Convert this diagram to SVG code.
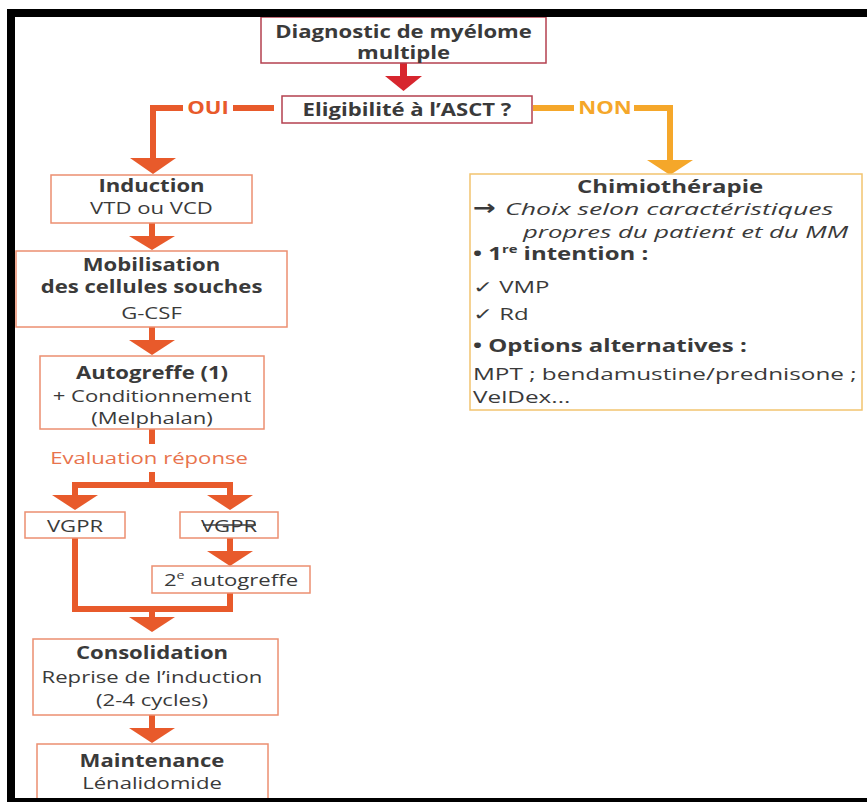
<svg xmlns="http://www.w3.org/2000/svg" width="867" height="802" viewBox="0 0 867 802">
<defs>
<style>
text { font-family: "Open Sans", "Liberation Sans", "DejaVu Sans", sans-serif; font-size: 17px; fill: #3a3a3a; }
.b { font-weight: 700; }
.m { text-anchor: middle; }
.r { font-size: 17px; }
.i { font-style: italic; }
.box1 { fill: #fff; stroke: #b4404f; stroke-width: 1.5; }
.box2 { fill: #fff; stroke: #ec8f70; stroke-width: 1.5; }
.box3 { fill: #fff; stroke: #f2c46f; stroke-width: 1.5; }
.cr { fill: none; stroke: #d7262e; stroke-width: 7; }
.co { fill: none; stroke: #e85a2b; stroke-width: 6; stroke-linejoin: miter; }
.cy { fill: none; stroke: #f5a72a; stroke-width: 6; stroke-linejoin: miter; }
.hr { fill: #d7262e; }
.ho { fill: #e85a2b; }
.hy { fill: #f5a72a; }
.lo { fill: #e85a2b; }
.ly { fill: #f5a72a; }
.ev { fill: #e8734d; }
.arr { font-family: "DejaVu Sans", sans-serif; font-weight: 700; font-size: 21px; }
</style>
</defs>
<rect width="867" height="802" fill="#fff"/>

<g id="connectors">
  <path class="cr" d="M403.5,63 V77"/>
  <polygon class="hr" points="385,76 422,76 403.5,91"/>
  <path class="co" d="M274,108 H233 M183,108 H153 V159"/>
  <polygon class="ho" points="130,158 176,158 153,174"/>
  <path class="cy" d="M533,108 H574 M634,108 H670 V161"/>
  <polygon class="hy" points="647,160 693,160 670,175"/>
  <path class="co" d="M152,223 V237"/>
  <polygon class="ho" points="129,236 175,236 152,250"/>
  <path class="co" d="M152,327 V341"/>
  <polygon class="ho" points="129,340 175,340 152,355"/>
  <path class="co" d="M152,429 V444 M152,472 V485"/>
  <path class="co" d="M75,497 V485 H230 V497"/>
  <polygon class="ho" points="52,495 98,495 75,510"/>
  <polygon class="ho" points="207,495 253,495 230,510"/>
  <path class="co" d="M230,538 V552"/>
  <polygon class="ho" points="207,551 253,551 230,566"/>
  <path class="co" d="M75,538 V609 H230 V593 M152,609 V618"/>
  <polygon class="ho" points="129,617 175,617 152,632"/>
  <path class="co" d="M152,715 V729"/>
  <polygon class="ho" points="129,728 175,728 152,743"/>
  <text class="b lo m" transform="translate(208,114) scale(1.3,1)">OUI</text>
  <text class="b ly m" transform="translate(605,114) scale(1.3,1)">NON</text>
  <text class="ev m" transform="translate(149,464) scale(1.3,1)">Evaluation réponse</text>
</g>

<g id="diagnostic">
  <rect class="box1" x="261" y="17" width="285" height="46"/>
  <text class="b m" transform="translate(403.5,38) scale(1.3,1)">Diagnostic de myélome</text>
  <text class="b m" transform="translate(403.5,59) scale(1.3,1)">multiple</text>
</g>

<g id="eligibilite">
  <rect class="box1" x="282" y="96" width="250" height="27"/>
  <text class="b m" transform="translate(407,116) scale(1.3,1)">Eligibilité à l’ASCT ?</text>
</g>

<g id="induction">
  <rect class="box2" x="51" y="175" width="201" height="48"/>
  <text class="b m" transform="translate(151.5,192) scale(1.3,1)">Induction</text>
  <text class="m" transform="translate(151.5,214) scale(1.3,1)">VTD ou VCD</text>
</g>

<g id="mobilisation">
  <rect class="box2" x="16" y="251" width="271" height="76"/>
  <text class="b m" transform="translate(151.5,271) scale(1.3,1)">Mobilisation</text>
  <text class="b m" transform="translate(151.5,293) scale(1.3,1)">des cellules souches</text>
  <text class="m" transform="translate(151.5,319) scale(1.3,1)">G-CSF</text>
</g>

<g id="autogreffe">
  <rect class="box2" x="40" y="356" width="224" height="73"/>
  <text class="b m" transform="translate(152,379) scale(1.3,1)">Autogreffe (1)</text>
  <text class="m" transform="translate(152,402) scale(1.3,1)">+ Conditionnement</text>
  <text class="m" transform="translate(152,424) scale(1.3,1)">(Melphalan)</text>
</g>

<g id="vgpr-oui">
  <rect class="box2" x="25" y="512" width="100" height="26"/>
  <text class="m" transform="translate(75,532) scale(1.3,1)">VGPR</text>
</g>

<g id="vgpr-non">
  <rect class="box2" x="180" y="512" width="98" height="26"/>
  <text class="m" transform="translate(229,532) scale(1.3,1)">VGPR</text>
  <line x1="203" y1="525" x2="256" y2="525" stroke="#3a3a3a" stroke-width="1.3"/>
</g>

<g id="autogreffe2">
  <rect class="box2" x="152" y="566" width="158" height="27"/>
  <text class="m" transform="translate(231,586) scale(1.3,1)">2<tspan font-size="11" dy="-7">e</tspan><tspan dy="7"> autogreffe</tspan></text>
</g>

<g id="consolidation">
  <rect class="box2" x="33" y="639" width="245" height="76"/>
  <text class="b m" transform="translate(152,659) scale(1.3,1)">Consolidation</text>
  <text class="m" transform="translate(152,683) scale(1.3,1)">Reprise de l’induction</text>
  <text class="m" transform="translate(152,706) scale(1.3,1)">(2-4 cycles)</text>
</g>

<g id="maintenance">
  <rect class="box2" x="37" y="744" width="231" height="62"/>
  <text class="b m" transform="translate(152,767) scale(1.3,1)">Maintenance</text>
  <text class="m" transform="translate(152,789) scale(1.3,1)">Lénalidomide</text>
</g>

<g id="chimiotherapie">
  <rect class="box3" x="470" y="174" width="392" height="236"/>
  <text class="b m r" transform="translate(670,193) scale(1.41,1)">Chimiothérapie</text>
  <text class="arr" transform="translate(473,215) scale(1.3,1)">→</text>
  <text class="r i" transform="translate(505,215) scale(1.57,1)">Choix selon caractéristiques</text>
  <text class="r i" transform="translate(523,238) scale(1.51,1)">propres du patient et du MM</text>
  <text class="r b" transform="translate(473,260) scale(1.41,1)">• 1<tspan font-size="10.5" dy="-7">re</tspan><tspan dy="7"> intention :</tspan></text>
  <text class="r" transform="translate(473,293) scale(1.41,1)">✓ VMP</text>
  <text class="r" transform="translate(473,320) scale(1.41,1)">✓ Rd</text>
  <text class="r b" transform="translate(473,352) scale(1.41,1)">• Options alternatives :</text>
  <text class="r" transform="translate(473,380) scale(1.43,1)">MPT ; bendamustine/prednisone ;</text>
  <text class="r" transform="translate(473,403) scale(1.43,1)">VelDex...</text>
</g>

<g id="frame">
  <rect x="7" y="9" width="860" height="8" fill="#000"/>
  <rect x="7" y="9" width="8" height="793" fill="#000"/>
  <rect x="7" y="798" width="860" height="4" fill="#000"/>
</g>
</svg>
